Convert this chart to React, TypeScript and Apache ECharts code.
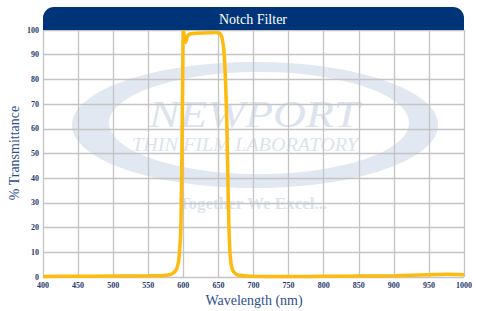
import React, { useEffect, useRef } from "react";
import * as echarts from "echarts";

const titleText = "Notch Filter";
const xAxisName = "Wavelength (nm)";
const yAxisName = "% Transmittance";

const wavelengths = [
  400, 450, 500, 550, 570, 580, 585, 590, 593, 595, 596.5, 597.5, 598.5, 599.2, 600,
  601.5, 603, 604.5, 606, 609, 615, 630, 645, 652, 655, 658, 660, 662, 663.5, 665,
  667, 670, 675, 680, 690, 700, 750, 800, 850, 900, 950, 975, 1000,
];
const transmittance = [
  0.2, 0.3, 0.4, 0.5, 0.6, 0.9, 1.5, 3, 6, 12, 20, 40, 65, 85, 100,
  97, 95, 96, 97.5, 98.3, 98.6, 98.8, 99, 98.6, 97, 91, 80, 62, 40, 20,
  8, 3, 1.2, 0.7, 0.4, 0.3, 0.2, 0.3, 0.4, 0.5, 0.9, 1.1, 0.9,
];

const FONT = "'Liberation Serif', 'DejaVu Serif', serif";

export default function App() {
  const ref = useRef<HTMLDivElement>(null);
  useEffect(() => {
    if (!ref.current) return;
    const chart = echarts.init(ref.current, undefined, { renderer: "svg" });
    const data = wavelengths.map((w, i) => [w, transmittance[i]]);
    const labelStyle = {
      color: "#1f3a6e",
      fontFamily: FONT,
      fontWeight: "bold",
      fontSize: 8,
      margin: 4,
      formatter: (v: number) => String(v),
    };
    chart.setOption({
      animation: false,
      backgroundColor: "#ffffff",
      grid: { left: 43, right: 13, top: 30, bottom: 34, containLabel: false },
      xAxis: {
        type: "value",
        min: 400,
        max: 1000,
        interval: 50,
        axisLine: { show: false },
        axisTick: { show: false },
        splitLine: { show: true, lineStyle: { color: "#c4c4c4", width: 1.3 } },
        axisLabel: labelStyle,
      },
      yAxis: {
        type: "value",
        min: 0,
        max: 100,
        interval: 10,
        axisLine: { show: false },
        axisTick: { show: false },
        splitLine: { show: true, lineStyle: { color: "#c4c4c4", width: 1.3 } },
        axisLabel: labelStyle,
      },
      graphic: [
        {
          type: "ellipse",
          z: -10,
          silent: true,
          shape: { cx: 255, cy: 125, rx: 183, ry: 63 },
          style: { fill: "#e2e8f1" },
        },
        {
          type: "ellipse",
          z: -9,
          silent: true,
          shape: { cx: 259, cy: 123, rx: 150, ry: 51 },
          style: { fill: "#ffffff" },
        },
        {
          type: "text",
          z: -8,
          silent: true,
          x: 254,
          y: 114,
          scaleX: 1.2,
          style: {
            text: "NEWPORT",
            x: 0,
            y: 0,
            align: "center",
            verticalAlign: "middle",
            fill: "#dbe3ee",
            font: `italic 38px ${FONT}`,
          },
        },
        {
          type: "text",
          z: -8,
          silent: true,
          x: 245,
          y: 145,
          scaleX: 1.12,
          style: {
            text: "THIN FILM LABORATORY",
            x: 0,
            y: 0,
            align: "center",
            verticalAlign: "middle",
            fill: "#dbe3ee",
            font: `italic 18px ${FONT}`,
          },
        },
        {
          type: "text",
          z: -8,
          silent: true,
          style: {
            text: "Together We Excel...",
            x: 253,
            y: 203,
            align: "center",
            verticalAlign: "middle",
            fill: "#dde4ee",
            font: `bold 17px ${FONT}`,
          },
        },
        {
          type: "rect",
          z: 100,
          silent: true,
          shape: { x: 43, y: 7, width: 421, height: 23, r: [11, 11, 0, 0] },
          style: { fill: "#003478" },
        },
        {
          type: "text",
          z: 101,
          silent: true,
          style: {
            text: titleText,
            x: 253,
            y: 19,
            align: "center",
            verticalAlign: "middle",
            fill: "#ffffff",
            font: `14px ${FONT}`,
          },
        },
        {
          type: "text",
          z: 101,
          silent: true,
          style: {
            text: xAxisName,
            x: 254,
            y: 300,
            align: "center",
            verticalAlign: "middle",
            fill: "#2c4f8c",
            font: `14px ${FONT}`,
          },
        },
        {
          type: "text",
          z: 101,
          silent: true,
          x: 14,
          y: 153,
          rotation: Math.PI / 2,
          style: {
            text: yAxisName,
            x: 0,
            y: 0,
            align: "center",
            verticalAlign: "middle",
            fill: "#2c4f8c",
            font: `14px ${FONT}`,
          },
        },
      ],
      series: [
        {
          type: "line",
          data,
          showSymbol: false,
          smooth: 0.25,
          clip: false,
          lineStyle: { color: "#fdbb10", width: 3.5 },
          z: 5,
        },
      ],
    });
    return () => chart.dispose();
  }, []);
  return <div ref={ref} style={{ width: 477, height: 311, position: "absolute", left: 0, top: 0 }} />;
}
